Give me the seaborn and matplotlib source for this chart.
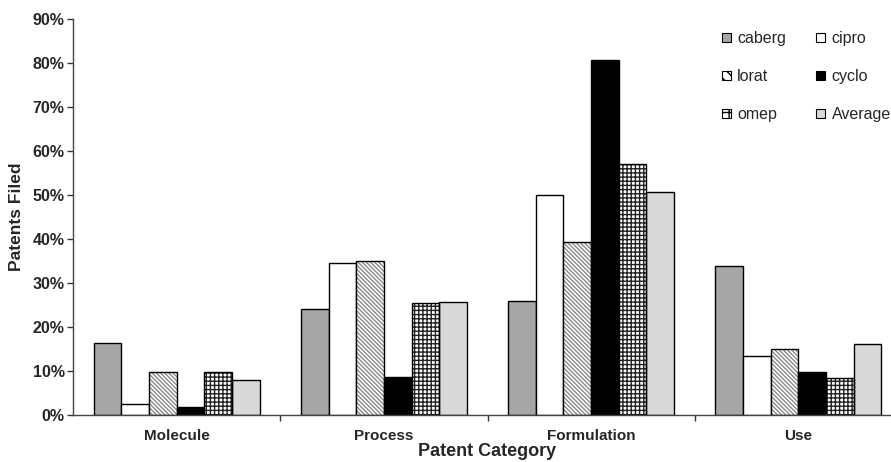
import matplotlib
matplotlib.use("Agg")
import matplotlib.pyplot as plt
import seaborn as sns
import pandas as pd
from matplotlib.patches import Patch, Rectangle
from matplotlib.ticker import FuncFormatter, MultipleLocator, FixedLocator

categories = ["Molecule", "Process", "Formulation", "Use"]
series_names = ["caberg", "cipro", "lorat", "cyclo", "omep", "Average"]
caberg = [16.3, 24.2, 25.9, 33.9]
cipro = [2.4, 34.5, 50.0, 13.5]
lorat = [9.7, 35.1, 39.4, 15.0]
cyclo = [1.9, 8.6, 80.7, 9.7]
omep = [9.7, 25.4, 57.0, 8.3]
average = [8.0, 25.6, 50.6, 16.1]
values = [caberg, cipro, lorat, cyclo, omep, average]

rows = []
for name, vals in zip(series_names, values):
    for c, v in zip(categories, vals):
        rows.append({"Patent Category": c, "series": name, "value": v})
df = pd.DataFrame(rows)

sns.set_theme(style="white")
plt.rcParams["font.family"] = ["Liberation Sans", "DejaVu Sans"]
plt.rcParams["hatch.linewidth"] = 1.0

styles = {
    "caberg": dict(fc="#a6a6a6", hatch=None, hc="black"),
    "cipro": dict(fc="white", hatch=None, hc="black"),
    "lorat": dict(fc="white", hatch="\\\\\\\\\\\\\\\\", hc="#8a8a8a"),
    "cyclo": dict(fc="black", hatch=None, hc="black"),
    "omep": dict(fc="white", hatch="++++", hc="#222222"),
    "Average": dict(fc="#d9d9d9", hatch=None, hc="black"),
}
legend_hatch = {"lorat": "\\\\\\", "omep": "++"}

fig = plt.figure(figsize=(8.91, 4.62), dpi=100)
ax = fig.add_axes([73 / 891, 47 / 462, 829 / 891, 396 / 462])

sns.barplot(data=df, x="Patent Category", y="value", hue="series",
            order=categories, hue_order=series_names, ax=ax,
            width=0.8, gap=0, legend=False, errorbar=None,
            palette=[styles[s]["fc"] for s in series_names],
            edgecolor="black", linewidth=1.0, saturation=1)

n = len(categories)
for i, patch in enumerate(list(ax.patches[: n * len(series_names)])):
    s = series_names[i // n]
    st = styles[s]
    patch.set_facecolor(st["fc"])
    if st["hatch"]:
        patch.set_hatch(st["hatch"])
        patch.set_edgecolor(st["hc"])
        patch.set_linewidth(0)
        outline = Rectangle((patch.get_x(), patch.get_y()), patch.get_width(), patch.get_height(),
                            fill=False, edgecolor="black", linewidth=1.0, zorder=patch.get_zorder() + 0.1)
        ax.add_patch(outline)

ax.set_xlim(-0.5, n - 0.5)
ax.set_ylim(0, 90)
ax.yaxis.set_major_locator(MultipleLocator(10))
ax.yaxis.set_major_formatter(FuncFormatter(lambda v, p: f"{int(round(v))}%"))

ax.xaxis.set_minor_locator(FixedLocator([0.5, 1.5, 2.5]))
ax.tick_params(axis="x", which="major", length=0, pad=10, labelsize=11)
ax.tick_params(axis="x", which="minor", length=4, width=1, color="#333333", direction="out", bottom=True)
ax.tick_params(axis="y", which="major", length=4, width=1, color="#333333", direction="out", left=True, labelsize=11.5, pad=2)
for lab in ax.get_xticklabels() + ax.get_yticklabels():
    lab.set_fontweight("bold")

for sp in ["top", "right"]:
    ax.spines[sp].set_visible(False)
for sp in ["left", "bottom"]:
    ax.spines[sp].set_color("#444444")
    ax.spines[sp].set_linewidth(1.0)

ax.set_xlabel("Patent Category", fontsize=13, fontweight="bold", labelpad=0)
ax.set_ylabel("Patents Filed", fontsize=12.5, fontweight="bold", labelpad=6)

labels = ["caberg", "lorat", "omep", "cipro", "cyclo", "Average"]
handles = []
for s in labels:
    st = styles[s]
    handles.append(Patch(facecolor=st["fc"], edgecolor="black",
                         hatch=legend_hatch.get(s), linewidth=0.8))
leg = ax.legend(handles, labels, ncol=2, frameon=False, loc="upper left",
                bbox_to_anchor=(722 / 891, 1 - 31 / 462), bbox_transform=fig.transFigure,
                fontsize=11.5, handlelength=0.55, handleheight=0.55, handletextpad=0.4,
                labelspacing=1.45, columnspacing=1.9, borderaxespad=0, borderpad=0)

fig.savefig("out.png", dpi=100)
